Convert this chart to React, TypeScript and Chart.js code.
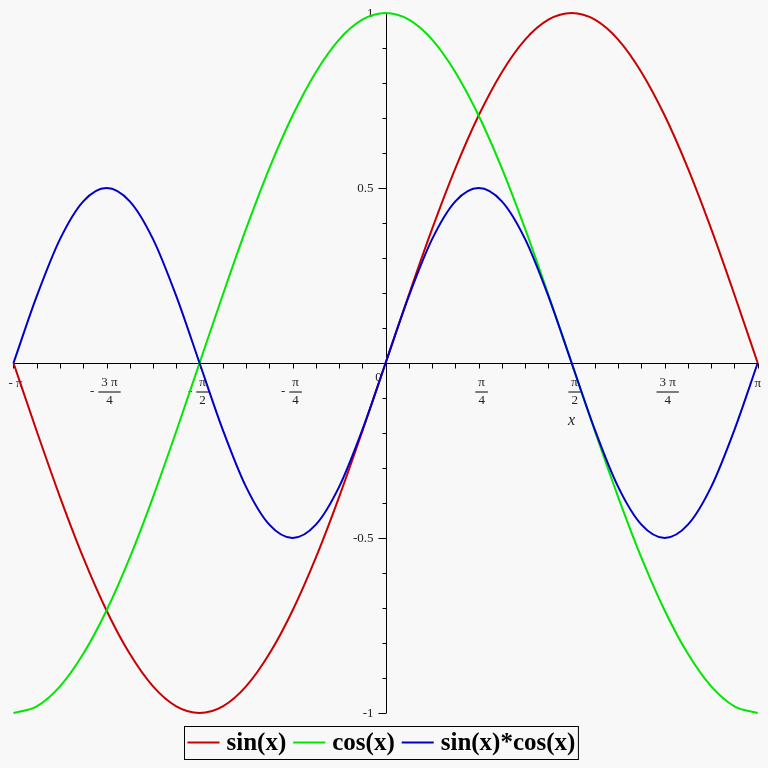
import React, { useEffect, useRef } from "react";
import { Chart, registerables } from "chart.js";

Chart.register(...registerables);

// x positions: multiples of pi/16 from -pi to pi
const xValues = [
  -3.1416, -2.9452, -2.7489, -2.5525, -2.3562, -2.1598, -1.9635, -1.7671, -1.5708,
  -1.3744, -1.1781, -0.9817, -0.7854, -0.589, -0.3927, -0.1963, 0,
  0.1963, 0.3927, 0.589, 0.7854, 0.9817, 1.1781, 1.3744, 1.5708,
  1.7671, 1.9635, 2.1598, 2.3562, 2.5525, 2.7489, 2.9452, 3.1416,
];

const sinValues = [
  0, -0.195, -0.383, -0.556, -0.707, -0.831, -0.924, -0.981, -1,
  -0.981, -0.924, -0.831, -0.707, -0.556, -0.383, -0.195, 0,
  0.195, 0.383, 0.556, 0.707, 0.831, 0.924, 0.981, 1,
  0.981, 0.924, 0.831, 0.707, 0.556, 0.383, 0.195, 0,
];

const cosValues = [
  -1, -0.981, -0.924, -0.831, -0.707, -0.556, -0.383, -0.195, 0,
  0.195, 0.383, 0.556, 0.707, 0.831, 0.924, 0.981, 1,
  0.981, 0.924, 0.831, 0.707, 0.556, 0.383, 0.195, 0,
  -0.195, -0.383, -0.556, -0.707, -0.831, -0.924, -0.981, -1,
];

const sinCosValues = [
  0, 0.191, 0.354, 0.462, 0.5, 0.462, 0.354, 0.191, 0,
  -0.191, -0.354, -0.462, -0.5, -0.462, -0.354, -0.191, 0,
  0.191, 0.354, 0.462, 0.5, 0.462, 0.354, 0.191, 0,
  -0.191, -0.354, -0.462, -0.5, -0.462, -0.354, -0.191, 0,
];

const seriesNames = ["sin(x)", "cos(x)", "sin(x)*cos(x)"];
const seriesColors = ["#c80000", "#00e600", "#0000c8"];

// x tick labels at multiples of pi/4
const xTickValues = [-3.1416, -2.3562, -1.5708, -0.7854, 0.7854, 1.5708, 2.3562, 3.1416];
const xTickLabels = ["-π", "-3 π/4", "-π/2", "-π/4", "π/4", "π/2", "3 π/4", "π"];
const yTickValues = [-1, -0.5, 0.5, 1];
const yTickLabels = ["-1", "-0.5", "0.5", "1"];
const xMinorStep = 0.19635; // pi/16
const yMinorStep = 0.1;

const BG = "#f8f8f8";
const SERIF = "'Liberation Serif', 'Times New Roman', serif";

const maplePlugin = {
  id: "maplePlugin",
  beforeDraw(chart: any) {
    const ctx = chart.ctx;
    ctx.save();
    ctx.fillStyle = BG;
    ctx.fillRect(0, 0, chart.width, chart.height);
    ctx.restore();
  },
  beforeDatasetsDraw(chart: any) {
    const ctx = chart.ctx;
    const xs = chart.scales.x;
    const ys = chart.scales.y;
    const x0 = Math.round(xs.getPixelForValue(0)) + 0.5;
    const y0 = Math.round(ys.getPixelForValue(0)) + 0.5;
    const left = xs.getPixelForValue(xs.min);
    const right = xs.getPixelForValue(xs.max);
    const top = ys.getPixelForValue(ys.max);
    const bottom = ys.getPixelForValue(ys.min);
    ctx.save();
    ctx.strokeStyle = "#000";
    ctx.lineWidth = 1;
    // axes
    ctx.beginPath();
    ctx.moveTo(left, y0);
    ctx.lineTo(right, y0);
    ctx.moveTo(x0, top);
    ctx.lineTo(x0, bottom);
    ctx.stroke();
    // x ticks (downward)
    ctx.beginPath();
    for (let k = -16; k <= 16; k++) {
      const px = Math.round(xs.getPixelForValue(k * xMinorStep)) + 0.5;
      ctx.moveTo(px, y0);
      ctx.lineTo(px, y0 + 5);
    }
    // y ticks (leftward)
    for (let k = -10; k <= 10; k++) {
      const v = k * yMinorStep;
      const py = Math.round(ys.getPixelForValue(v)) + 0.5;
      const major = k % 5 === 0;
      ctx.moveTo(x0, py);
      ctx.lineTo(x0 - (major ? 8 : 4), py);
    }
    ctx.stroke();

    // y tick labels
    ctx.fillStyle = "#222";
    ctx.font = `13px ${SERIF}`;
    ctx.textAlign = "right";
    ctx.textBaseline = "middle";
    yTickValues.forEach((v, i) => {
      ctx.fillText(yTickLabels[i], x0 - 13, ys.getPixelForValue(v) + 1);
    });
    // origin label
    ctx.textAlign = "center";
    ctx.fillText("0", x0 - 8, y0 + 14);

    // x tick labels
    xTickValues.forEach((v, i) => {
      const px = xs.getPixelForValue(v);
      const label = xTickLabels[i];
      ctx.font = `13px ${SERIF}`;
      ctx.textBaseline = "middle";
      if (label.indexOf("/") < 0) {
        ctx.textAlign = "center";
        const txt = label.startsWith("-") ? "- π" : "π";
        ctx.fillText(txt, px + (label.startsWith("-") ? 2 : 0), y0 + 20);
      } else {
        const neg = label.startsWith("-");
        const body = neg ? label.slice(1) : label;
        const [num, den] = body.split("/");
        const cx = px + 3;
        const w = Math.max(ctx.measureText(num).width, ctx.measureText(den).width) + 6;
        ctx.textAlign = "center";
        ctx.fillText(num, cx, y0 + 19);
        ctx.fillText(den, cx, y0 + 37);
        ctx.beginPath();
        ctx.lineWidth = 1;
        ctx.moveTo(cx - w / 2, y0 + 28.5);
        ctx.lineTo(cx + w / 2, y0 + 28.5);
        ctx.stroke();
        if (neg) {
          ctx.textAlign = "right";
          ctx.fillText("-", cx - w / 2 - 4, y0 + 28);
        }
      }
    });
    // x axis title
    ctx.font = `italic 16px ${SERIF}`;
    ctx.textAlign = "center";
    ctx.fillText("x", xs.getPixelForValue(1.5708), y0 + 57);
    ctx.restore();
  },
  afterDraw(chart: any) {
    const ctx = chart.ctx;
    ctx.save();
    ctx.font = `bold 25px ${SERIF}`;
    const lineLen = 32;
    const gapLT = 7;
    const gapItem = 7;
    const widths = seriesNames.map((n) => ctx.measureText(n).width);
    let total = 0;
    widths.forEach((w, i) => {
      total += lineLen + gapLT + w + (i < widths.length - 1 ? gapItem : 0);
    });
    const padX = 3;
    const boxW = total + padX * 2;
    const cx = 380.5;
    const boxL = Math.round(cx - boxW / 2) + 0.5;
    const boxT = 726.5;
    const boxH = 33;
    ctx.fillStyle = BG;
    ctx.fillRect(boxL, boxT, boxW, boxH);
    ctx.strokeStyle = "#000";
    ctx.lineWidth = 1;
    ctx.strokeRect(boxL, boxT, boxW, boxH);
    let x = boxL + padX;
    const yMid = boxT + 16;
    seriesNames.forEach((n, i) => {
      ctx.strokeStyle = seriesColors[i];
      ctx.lineWidth = 2;
      ctx.beginPath();
      ctx.moveTo(x, yMid);
      ctx.lineTo(x + lineLen, yMid);
      ctx.stroke();
      x += lineLen + gapLT;
      ctx.fillStyle = "#000";
      ctx.textAlign = "left";
      ctx.textBaseline = "middle";
      ctx.fillText(n, x, yMid + 1);
      x += widths[i] + gapItem;
    });
    ctx.restore();
  },
};

export default function App() {
  const canvasRef = useRef<HTMLCanvasElement | null>(null);
  useEffect(() => {
    if (!canvasRef.current) return;
    const mk = (vals: number[]) => xValues.map((x, i) => ({ x, y: vals[i] }));
    const chart = new Chart(canvasRef.current, {
      type: "line",
      data: {
        datasets: [
          { label: seriesNames[0], data: mk(sinValues), borderColor: seriesColors[0], order: 3 },
          { label: seriesNames[1], data: mk(cosValues), borderColor: seriesColors[1], order: 2 },
          { label: seriesNames[2], data: mk(sinCosValues), borderColor: seriesColors[2], order: 1 },
        ].map((d) => ({
          ...d,
          borderWidth: 2,
          pointRadius: 0,
          fill: false,
          cubicInterpolationMode: "monotone" as const,
          clip: false as any,
        })),
      },
      options: {
        responsive: false,
        animation: false,
        layout: { padding: { left: 13.5, right: 10.3, top: 13, bottom: 55 } },
        scales: {
          x: { type: "linear", min: -Math.PI, max: Math.PI, display: false },
          y: { type: "linear", min: -1, max: 1, display: false },
        },
        plugins: { legend: { display: false }, tooltip: { enabled: false } },
      },
      plugins: [maplePlugin],
    });
    return () => chart.destroy();
  }, []);
  return (
    <div style={{ position: "fixed", left: 0, top: 0, width: 768, height: 768, background: BG }}>
      <canvas ref={canvasRef} width={768} height={768} style={{ display: "block" }} />
    </div>
  );
}
